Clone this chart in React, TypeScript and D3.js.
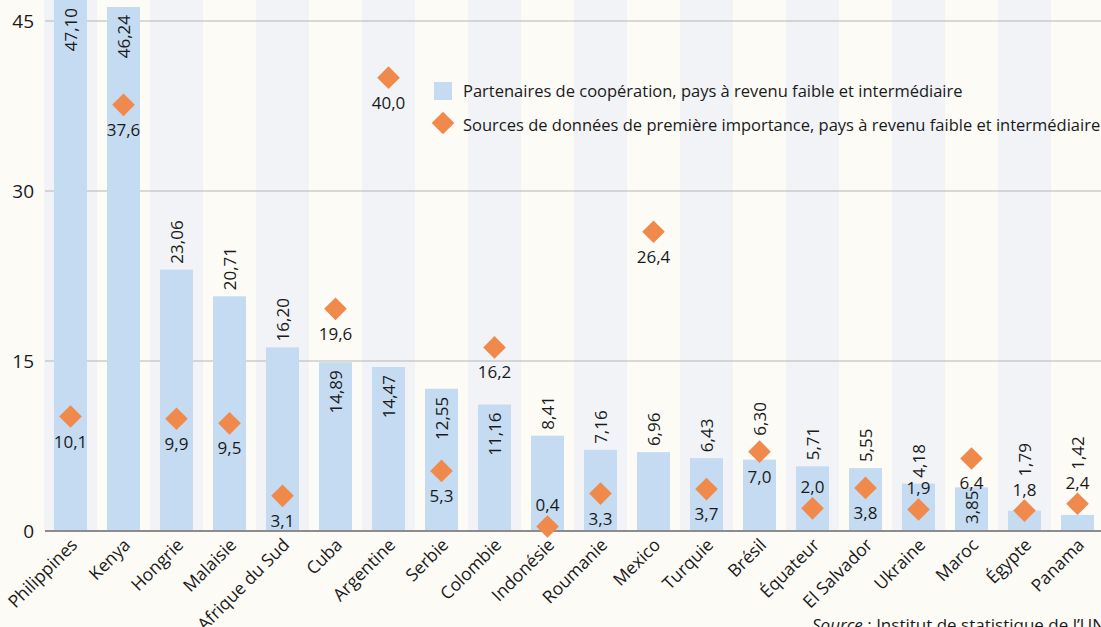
import React from "react";
import * as d3 from "d3";

const countries = [
  "Philippines", "Kenya", "Hongrie", "Malaisie", "Afrique du Sud", "Cuba", "Argentine",
  "Serbie", "Colombie", "Indonésie", "Roumanie", "Mexico", "Turquie", "Brésil",
  "Équateur", "El Salvador", "Ukraine", "Maroc", "Égypte", "Panama",
];
const partenaires = [
  47.1, 46.24, 23.06, 20.71, 16.2, 14.89, 14.47, 12.55, 11.16, 8.41,
  7.16, 6.96, 6.43, 6.3, 5.71, 5.55, 4.18, 3.85, 1.79, 1.42,
];
const sources = [
  10.1, 37.6, 9.9, 9.5, 3.1, 19.6, 40.0, 5.3, 16.2, 0.4,
  3.3, 26.4, 3.7, 7.0, 2.0, 3.8, 1.9, 6.4, 1.8, 2.4,
];
const yTicks = [0, 15, 30, 45];

// label placement
const barLabelInside = ["Philippines", "Kenya", "Cuba", "Argentine", "Serbie", "Colombie"];
const barLabelBottom = ["Maroc"];
const diamondLabelAbove = ["Indonésie", "Équateur", "Ukraine", "Égypte", "Panama"];

const legendLabels = [
  "Partenaires de coopération, pays à revenu faible et intermédiaire",
  "Sources de données de première importance, pays à revenu faible et intermédiaire",
];

const W = 1101;
const H = 627;
const FONT = "'Open Sans', 'DejaVu Sans', sans-serif";
const fmt = (v: number, d: number) => v.toFixed(d).replace(".", ",");

export default function App() {
  const x = d3.scaleBand<string>().domain(countries).range([44, 1104]).paddingInner(0.377).paddingOuter(0.1885);
  const band = d3.scaleBand<string>().domain(countries).range([44, 1104]);
  const y = d3.scaleLinear().domain([0, 45]).range([531, 21]);
  const bw = x.bandwidth();
  const diamond = d3.symbol().type(d3.symbolSquare).size(16 * 16);
  const labelLen = 42;

  return (
    <svg width={W} height={H} style={{ position: "absolute", left: 0, top: 0, background: "#fcfbf6" }} fontFamily={FONT}>
      <rect width={W} height={H} fill="#fcfbf6" />
      {countries.map((c, i) => (
        <rect key={"b" + c} x={band(c)} y={0} width={band.bandwidth()} height={y(0)} fill={i % 2 === 0 ? "#f1f3f6" : "#fcfbf6"} />
      ))}
      {yTicks.filter((t) => t > 0).map((t) => (
        <line key={"g" + t} x1={45} x2={W} y1={y(t)} y2={y(t)} stroke="#b5b5b5" strokeWidth={1} />
      ))}
      {yTicks.map((t) => (
        <text key={"t" + t} x={34} y={y(t) + 7} textAnchor="end" fontSize={19} fill="#1a1a1a">{t}</text>
      ))}
      {countries.map((c, i) => {
        const v = partenaires[i];
        const top = Math.max(y(v), 0);
        return (
          <rect key={"r" + c} x={x(c)} y={top} width={bw} height={y(0) - top} fill="#c4dbf1" />
        );
      })}
      <line x1={45} x2={W} y1={y(0)} y2={y(0)} stroke="#8c8c8c" strokeWidth={2} />
      {countries.map((c, i) => {
        const v = partenaires[i];
        const cx = (x(c) as number) + bw / 2;
        let ty: number;
        let anchor: string;
        if (barLabelInside.includes(c)) {
          ty = Math.max(y(v), 0) + 8;
          anchor = "end";
        } else if (barLabelBottom.includes(c)) {
          ty = y(0) - 7;
          anchor = "start";
        } else {
          ty = y(v) - 6;
          anchor = "start";
          // keep clear of the diamond and its label
          const cy = y(sources[i]);
          const above = diamondLabelAbove.includes(c);
          const obsTop = above ? cy - 29 : cy - 11;
          const obsBottom = above ? cy + 11 : cy + 34;
          if (obsTop < ty && obsBottom > ty - labelLen) ty = Math.min(ty, obsTop - 5);
        }
        return (
          <text key={"l" + c} transform={`translate(${cx},${ty}) rotate(-90)`} dy="0.36em" textAnchor={anchor} fontSize={17} fill="#1a1a1a">
            {fmt(v, 2)}
          </text>
        );
      })}
      {countries.map((c, i) => {
        const v = sources[i];
        const cx = (x(c) as number) + bw / 2;
        const cy = y(v);
        const above = diamondLabelAbove.includes(c);
        return (
          <g key={"d" + c}>
            <path d={diamond() as string} transform={`translate(${cx},${cy}) rotate(45)`} fill="#f08a4c" />
            <text x={cx} y={above ? cy - 15 : cy + 31} textAnchor="middle" fontSize={17} fill="#1a1a1a">
              {fmt(v, 1)}
            </text>
          </g>
        );
      })}
      {countries.map((c) => {
        const cx = (x(c) as number) + bw / 2;
        return (
          <text key={"x" + c} transform={`translate(${cx + 8},${y(0) + 15}) rotate(-45)`} textAnchor="end" fontSize={17.5} fill="#1a1a1a">
            {c}
          </text>
        );
      })}
      <g>
        <rect x={434} y={82} width={18} height={18} fill="#c4dbf1" />
        <text x={463} y={97} fontSize={16.5} fill="#1a1a1a">{legendLabels[0]}</text>
        <path d={diamond() as string} transform={`translate(443,123) rotate(45)`} fill="#f08a4c" />
        <text x={463} y={131} fontSize={16.5} fill="#1a1a1a">{legendLabels[1]}</text>
      </g>
      <text x={812} y={631} fontSize={17} fill="#1a1a1a">
        <tspan fontStyle="italic">Source</tspan> : Institut de statistique de l’UNESCO
      </text>
    </svg>
  );
}
